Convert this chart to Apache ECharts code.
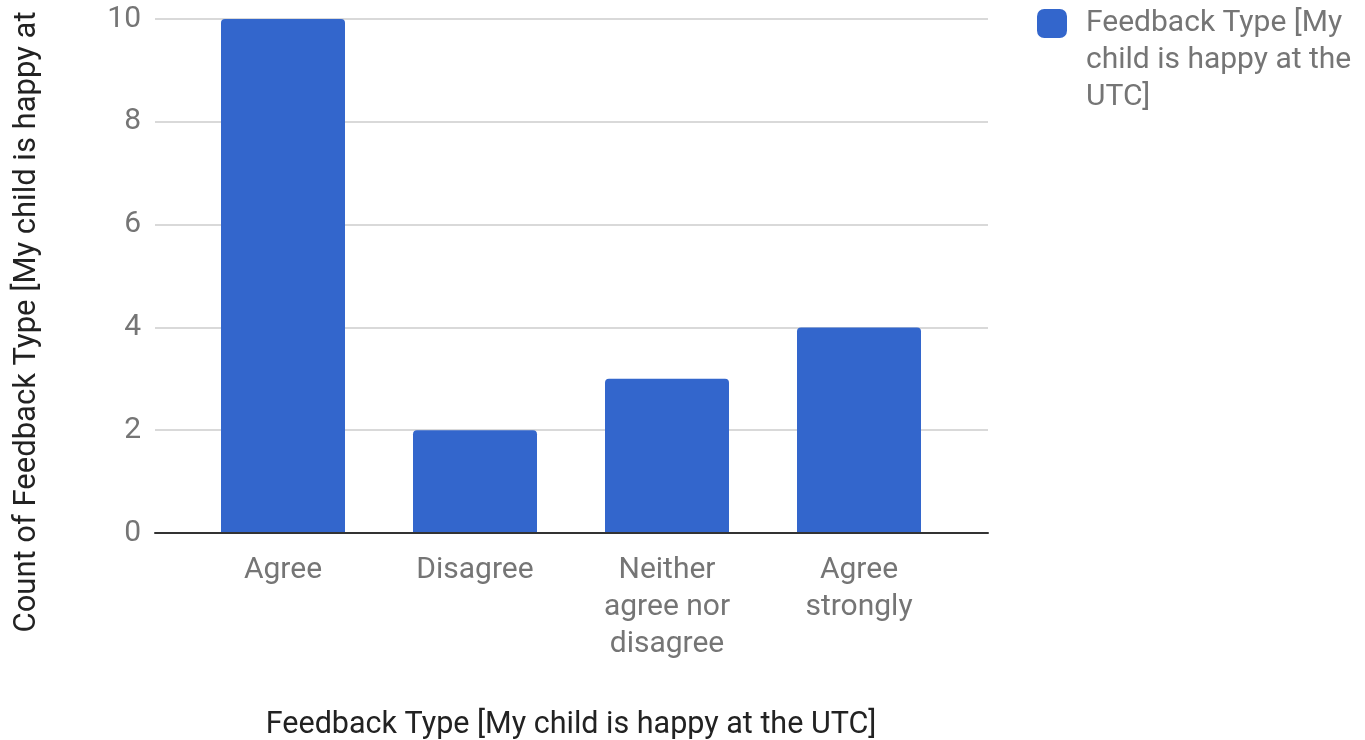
<!DOCTYPE html>
<html>
<head>
<meta charset="utf-8">
<script src="https://cdn.jsdelivr.net/npm/echarts@6/dist/echarts.min.js"></script>
<style>
  html, body { margin: 0; padding: 0; background: #ffffff; }
  #chart { width: 1365px; height: 740px; }
</style>
</head>
<body>
<div id="chart"></div>
<script>
// Survey responses: "My child is happy at the UTC"
const categories = ['Agree', 'Disagree', 'Neither\nagree nor\ndisagree', 'Agree\nstrongly'];
const counts = [10, 2, 3, 4];
const seriesName = 'Feedback Type [My child is happy at the UTC]';
const yTitle = 'Count of Feedback Type [My child is happy at';
const xTitle = 'Feedback Type [My child is happy at the UTC]';
const yTicks = { min: 0, max: 10, interval: 2 };

const FONT = 'Roboto';
const SIZE = 30;
const LABEL = '#757575';
const TITLE = '#222222';

const chart = echarts.init(document.getElementById('chart'));

chart.setOption({
  animation: false,
  backgroundColor: '#ffffff',
  textStyle: { fontFamily: FONT },
  grid: [
    // outer frame: gridlines, value labels and baseline
    { left: 155, right: 377, top: 19, bottom: 207, outerBoundsMode: 'none', containLabel: false },
    // inner band holding the category columns
    { left: 187, right: 410, top: 19, bottom: 207, outerBoundsMode: 'none', containLabel: false }
  ],
  xAxis: [
    {
      gridIndex: 0, type: 'value', min: 0, max: 1,
      axisLine: { show: true, lineStyle: { color: '#333333', width: 2 } },
      axisTick: { show: false }, axisLabel: { show: false }, splitLine: { show: false },
      z: 5
    },
    {
      gridIndex: 1, type: 'category', data: categories,
      axisLine: { show: false }, axisTick: { show: false },
      axisLabel: {
        color: LABEL, fontSize: SIZE, fontFamily: FONT, lineHeight: 37,
        margin: 19, interval: 0
      },
      name: xTitle, nameLocation: 'middle', nameGap: 177,
      nameTextStyle: { color: TITLE, fontSize: 30.5, fontFamily: FONT }
    }
  ],
  yAxis: [
    {
      gridIndex: 0, type: 'value',
      min: yTicks.min, max: yTicks.max, interval: yTicks.interval,
      axisLine: { show: false }, axisTick: { show: false },
      axisLabel: { color: LABEL, fontSize: SIZE, fontFamily: FONT, margin: 14 },
      splitLine: { lineStyle: { color: '#cccccc', width: 1.5 } }
    },
    {
      gridIndex: 1, type: 'value',
      min: yTicks.min, max: yTicks.max, interval: yTicks.interval,
      show: false, splitLine: { show: false }
    }
  ],
  legend: {
    data: [seriesName],
    orient: 'vertical',
    left: 1032, top: -74,
    icon: 'roundRect',
    itemWidth: 30, itemHeight: 29,
    // two leading blank lines keep the first text line level with the swatch
    formatter: () => '\n\nFeedback Type [My\nchild is happy at the\nUTC]',
    textStyle: {
      color: LABEL, fontSize: SIZE, fontFamily: FONT, lineHeight: 37,
      padding: [0, 0, 0, 14]
    }
  },
  graphic: [
    {
      type: 'text',
      x: 27, y: 322,
      rotation: Math.PI / 2,
      style: {
        text: yTitle,
        fill: TITLE, fontSize: 31, fontFamily: FONT,
        align: 'center', verticalAlign: 'middle'
      }
    }
  ],
  series: [
    {
      name: seriesName,
      type: 'bar',
      xAxisIndex: 1, yAxisIndex: 1,
      data: counts,
      barWidth: 124,
      itemStyle: { color: '#3366cc', borderRadius: [4, 4, 0, 0] },
      z: 3
    }
  ]
});
</script>
</body>
</html>
